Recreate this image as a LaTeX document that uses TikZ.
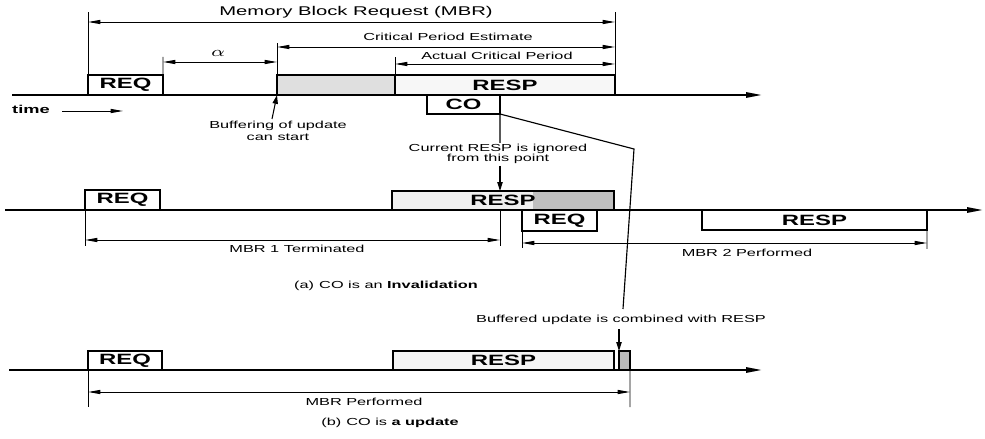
\documentclass[tikz,border=0pt]{standalone}
\usepackage{graphicx}
\usepackage{fontspec}
\setmainfont{Liberation Sans}[FakeStretch=1.6]
\usetikzlibrary{arrows.meta}
\begin{document}
\begin{tikzpicture}[x=0.02cm,y=-0.02cm,
  box/.style 2 args={draw, line width=0.9pt, inner sep=0pt, outer sep=0pt, anchor=south west,
     minimum width={#1*0.02cm}, minimum height={#2*0.02cm},
     font=\fontsize{8.5}{9}\selectfont\bfseries},
  axis/.style={line width=1.1pt, -{Triangle[length=9pt,width=3pt]}},
  ext/.style={line width=0.55pt},
  dim/.style={line width=0.55pt, {Triangle[length=7pt,width=2.3pt]}-{Triangle[length=7pt,width=2.3pt]}},
  lbl/.style={font=\fontsize{5.8}{6.8}\selectfont, inner sep=0pt, anchor=base},
  blk/.style={font=\fontsize{5.8}{6.8}\selectfont, inner sep=0pt, align=center},
  down/.style={line width=0.6pt, -{Triangle[length=5pt,width=3pt]}},
  conn/.style={line width=0.65pt},
]
\useasboundingbox (0,0) rectangle (985,439);

% ---------------- row 1 ----------------
\coordinate (t1s) at (12,95);
\coordinate (t1e) at (762,95);
\draw[axis] (t1s) -- (t1e);
\node[box={75}{20}, fill=white] (req1) at (88,95) {REQ};
\node[box={118}{20}, fill=gray!25] (buf1) at (277,95) {};
\node[box={220}{20}, fill=gray!6] (resp1) at (395,95) {RESP};
\node[box={73}{19}, fill=white] (co) at (427,114) {CO};

% MBR dimension
\coordinate (mL) at (88,12);
\coordinate (mR) at (615,12);
\coordinate (mA) at (88,22);
\coordinate (mB) at (615,22);
\draw[ext] (req1.north west) -- (mL);
\draw[ext] (resp1.south east) -- (mR);
\draw[dim] (mA) -- (mB);
\node[lbl, font=\fontsize{7.2}{8}\selectfont] (mbrlab) at (356,16) {Memory Block Request (MBR)};

% Critical period estimate
\coordinate (cT) at (277,43);
\coordinate (cA) at (277,47);
\coordinate (cB) at (615,47);
\draw[ext] (buf1.south west) -- (cT);
\draw[dim] (cA) -- (cB);
\node[lbl] (cpelab) at (448,41) {Critical Period Estimate};

% Actual critical period
\coordinate (aT) at (395,57);
\coordinate (aA) at (395,64);
\coordinate (aB) at (615,64);
\draw[ext] (resp1.north west) -- (aT);
\draw[dim] (aA) -- (aB);
\node[lbl] (acplab) at (497,60) {Actual Critical Period};

% alpha
\coordinate (alT) at (163,57);
\coordinate (alA) at (163,62);
\coordinate (alB) at (277,62);
\draw[ext] (req1.north east) -- (alT);
\draw[dim] (alA) -- (alB);
\node[lbl, font=\fontsize{8}{9}\selectfont] (alpha) at (218,57) {\scalebox{1.4}[1]{$\alpha$}};

% time
\node[lbl, font=\fontsize{6.5}{7}\selectfont\bfseries] (time) at (31,114) {time};
\coordinate (tA) at (62,111);
\coordinate (tB) at (123,111);
\draw[line width=0.55pt, -{Triangle[length=7pt,width=2.3pt]}] (tA) -- (tB);

% buffering
\node[blk] (buftxt) at (278,130.5) {Buffering of update\\can start};
\coordinate (bufA) at (272,119);
\draw[down] (bufA) -- (buf1.south west);

% CO -> current RESP ignored
\coordinate (cr1) at (500,143);
\coordinate (cr2) at (500,166);
\coordinate (cr3) at (500,191);
\coordinate (cr4) at (500,246);
\draw[conn] (co.south east) -- (cr1);
\node[blk, font=\fontsize{5.8}{6}\selectfont] (curtxt) at (498,154) {Current RESP is ignored\\from this point};
\draw[down] (cr2) -- (cr3);
\draw[ext] (cr3) -- (cr4);

% CO -> buffered update
\coordinate (s1) at (634,149);
\coordinate (s2) at (623,309);
\draw[conn] (co.south east) -- (s1) -- (s2);

% ---------------- row 2 ----------------
\coordinate (t2s) at (5,210);
\coordinate (t2e) at (983,210);
\draw[axis] (t2s) -- (t2e);
\fill[gray!12] (392,191) rectangle (533,210);
\fill[gray!50] (533,191) rectangle (614,210);
\node[box={222}{19}] (resp2) at (392,210) {RESP};
\node[box={75}{20}, fill=white] (req2) at (85,210) {REQ};
\node[box={75}{21}, fill=white, anchor=north west] (req3) at (522,210) {REQ};
\node[box={225}{20}, fill=white, anchor=north west] (resp3) at (702,210) {RESP};

% MBR 1 terminated
\coordinate (m1T) at (85,246);
\coordinate (m1A) at (85,240);
\coordinate (m1B) at (500,240);
\draw[ext] (req2.south west) -- (m1T);
\draw[dim] (m1A) -- (m1B);
\node[lbl] (m1lab) at (297,253) {MBR 1 Terminated};

% MBR 2 performed
\coordinate (m2L) at (522,248);
\coordinate (m2R) at (927,249);
\coordinate (m2A) at (522,243);
\coordinate (m2B) at (927,243);
\draw[ext] (req3.south west) -- (m2L);
\draw[ext] (resp3.south east) -- (m2R);
\draw[dim] (m2A) -- (m2B);
\node[lbl] (m2lab) at (747,256) {MBR 2 Performed};

\node[lbl] (capa) at (386,289) {(a)\enspace CO is an \textbf{Invalidation}};

% ---------------- row 3 ----------------
\node[lbl] (buftxt2) at (621,322) {Buffered update is combined with RESP};
\coordinate (b1) at (619,329);
\coordinate (t3s) at (9,370);
\coordinate (t3e) at (762,370);
\draw[axis] (t3s) -- (t3e);
\node[box={221}{19}, fill=gray!8] (resp4) at (393,370) {RESP};
\node[box={74}{19}, fill=white] (req4) at (88,370) {REQ};
\node[box={11}{19}, line width=0.7pt, fill=gray!55] (upd) at (619,370) {};
\draw[down] (b1) -- (upd.north west);

% MBR performed
\coordinate (m3L) at (88,407);
\coordinate (m3R) at (630,407);
\coordinate (m3A) at (88,392);
\coordinate (m3B) at (630,392);
\draw[ext] (req4.south west) -- (m3L);
\draw[ext] (upd.north east) -- (m3R);
\draw[dim] (m3A) -- (m3B);
\node[lbl] (m3lab) at (364,405) {MBR Performed};

\node[lbl] (capb) at (390,425) {(b)\enspace CO is \textbf{a update}};
\end{tikzpicture}
\end{document}
